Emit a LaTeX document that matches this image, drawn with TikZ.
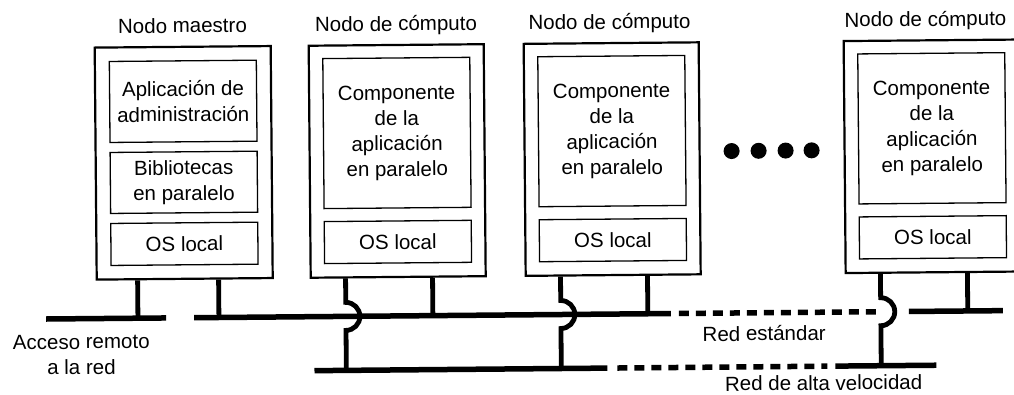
\documentclass[tikz,border=0pt]{standalone}
\usepackage{fontspec}
\setmainfont{Liberation Sans}
\begin{document}
\begin{tikzpicture}[x=1pt,y=-1pt,
  font=\fontsize{20.5}{25.5}\selectfont,
  outerbox/.style={draw, line width=2.2pt, inner sep=0pt, minimum width=175pt, minimum height=232pt},
  innerbox/.style={draw, line width=1.3pt, align=center, inner sep=0pt, minimum width=147pt},
  title/.style={anchor=base, inner sep=0pt},
  lbl/.style={inner sep=0pt, align=center},
  net/.style={line width=5.5pt},
  dnet/.style={line width=5.5pt, dash pattern=on 10pt off 7pt},
  leg/.style={line width=4.8pt},
  dot/.style={circle, fill, inner sep=0pt, minimum size=16pt}]
\useasboundingbox (0,0) rectangle (1014,394);
\clip (0,0) rectangle (1014,394);
\begin{scope}[rotate around={0.5:(507,197)}, transform shape]
% ---------- master node
\node[title] (tm) at (184,30) {Nodo maestro};
\node[outerbox, minimum width=176pt] (m) at (184,160) {};
\node[innerbox, minimum height=81pt] (m1) at (184,98.5) {Aplicación de\\administración};
\node[innerbox, minimum height=61pt] (m2) at (184,179.5) {Bibliotecas\\en paralelo};
\node[innerbox, minimum height=42pt] (m3) at (184,241) {OS local};
% ---------- compute nodes
\foreach \n/\cx/\tx in {c1/397.5/397.5, c2/612.5/611, c3/932.5/927}{
  \node[title] (t\n) at (\tx,30) {Nodo de cómputo};
  \node[outerbox] (\n) at (\cx,160) {};
  \node[innerbox, minimum height=150pt] (\n-app) at (\cx,132) {Componente\\de la\\aplicación\\en paralelo};
  \node[innerbox, minimum height=42pt] (\n-os) at (\cx,241) {OS local};
  \coordinate (\n-a) at ([xshift=36pt]\n.south west);
  \coordinate (\n-b) at ([xshift=123pt]\n.south west);
}
\coordinate (m-a) at ([xshift=42pt]m.south west);
\coordinate (m-b) at ([xshift=123pt]m.south west);
% ---------- networks
\coordinate (acc-w) at (45,315);
\coordinate (acc-e) at (165,315);
\coordinate (std-w) at (193,315);
\coordinate (std-s) at (670,315);
\coordinate (std-d1) at (678,315);
\coordinate (std-d2) at (882,315);
\coordinate (std-r1) at (908,315);
\coordinate (std-r2) at (1002,315);
\coordinate (hs-w) at (313,369);
\coordinate (hs-s) at (606,369);
\coordinate (hs-d1) at (616,369);
\coordinate (hs-d2) at (826,369);
\coordinate (hs-r1) at (834,369);
\coordinate (hs-r2) at (935,369);
\draw[net] (acc-w) -- (acc-e);
\draw[net] (std-w) -- (std-s);
\draw[dnet] (std-d1) -- (std-d2);
\draw[net] (std-r1) -- (std-r2);
\draw[net] (hs-w) -- (hs-s);
\draw[dnet] (hs-d1) -- (hs-d2);
\draw[net] (hs-r1) -- (hs-r2);
% ---------- legs
\draw[leg] (m-a) -- (m-a |- acc-e);
\draw[leg] (m-b) -- (m-b |- std-w);
\foreach \n in {c1,c2,c3}{
  \draw[leg] (\n-b) -- (\n-b |- std-w);
  \draw[leg] (\n-a) -- ([yshift=14pt]\n-a |- std-w)
     arc[start angle=90, end angle=-90, radius=14pt] -- (\n-a |- hs-w);
}
% ---------- dots
\node[dot] (d1) at (732,153) {};
\node[dot] (d2) at (759,153) {};
\node[dot] (d3) at (786,153) {};
\node[dot] (d4) at (812,153) {};
% ---------- labels
\node[lbl] (lacc) at (80,351) {Acceso remoto\\a la red};
\node[title] (lstd) at (763,343) {Red estándar};
\node[title] (lhs) at (822,393) {Red de alta velocidad};
\end{scope}
\end{tikzpicture}
\end{document}
